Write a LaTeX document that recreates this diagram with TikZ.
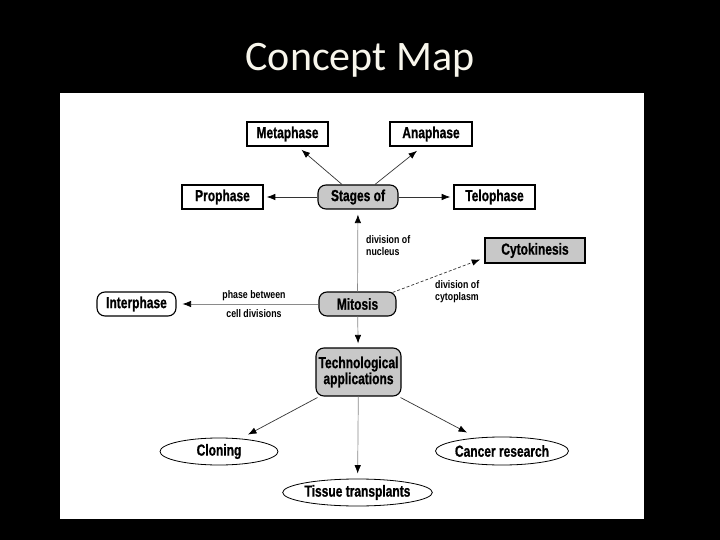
\documentclass[tikz,border=0pt]{standalone}
\usepackage{fontspec}
\usetikzlibrary{arrows.meta,shapes.geometric}
\newfontfamily\cmapfont{Liberation Sans}[FakeStretch=0.8]
\newfontfamily\nodefont{Liberation Sans}[FakeStretch=0.75, BoldFeatures={FakeBold=0.8}]
\newfontfamily\titlefont{Carlito}
\definecolor{nodegray}{HTML}{C8C8C8}
\definecolor{linegray}{HTML}{8A8A8A}
\definecolor{titlecol}{HTML}{F8F6EC}
\tikzset{
  base/.style={font=\nodefont\bfseries\fontsize{16}{17}\selectfont, inner sep=0pt, align=center},
  sqbox/.style={base, draw, line width=1.6pt, fill=white, minimum height=24pt},
  rbox/.style={base, draw, line width=1.1pt, rounded corners=8pt, minimum height=24pt},
  ell/.style={base, draw, ellipse, line width=0.8pt, fill=white},
  lbl/.style={font=\cmapfont\bfseries\fontsize{11}{12}\selectfont, inner sep=0pt, align=left},
  arr/.style={-{Latex[length=8.5pt,width=6.5pt,color=black]}, line width=0.7pt, draw=black!80},
  garr/.style={-{Latex[length=8.5pt,width=6.5pt,color=black]}, line width=0.7pt, draw=linegray},
}
\begin{document}
\begin{tikzpicture}[x=1pt,y=-1pt]
\useasboundingbox (0,0) rectangle (720,540);
\fill[black] (0,0) rectangle (720,540);
\fill[white] (60,93) rectangle (644,519);
\node[font=\titlefont\fontsize{42}{43}\selectfont, text=titlecol] (title) at (360,60) {Concept Map};

\node[sqbox, minimum width=81pt] (meta) at (287.5,134) {Metaphase};
\node[sqbox, minimum width=82pt] (ana) at (431,134) {Anaphase};
\node[sqbox, minimum width=81pt] (pro) at (222.5,197) {Prophase};
\node[rbox, fill=nodegray, minimum width=80pt] (stages) at (358,197) {Stages of};
\node[sqbox, minimum width=81pt] (telo) at (494.5,197) {Telophase};
\node[sqbox, fill=nodegray, minimum width=100pt, minimum height=25pt] (cyto) at (535,250.5) {Cytokinesis};
\node[rbox, fill=white, minimum width=79pt] (inter) at (136.5,304) {Interphase};
\node[rbox, fill=nodegray, minimum width=77pt] (mit) at (357.5,304) {Mitosis};
\node[rbox, fill=nodegray, minimum width=85pt, minimum height=48pt] (tech) at (358.5,372) {Technological\\[-1pt]applications};
\node[ell, minimum width=118pt, minimum height=27pt] (clon) at (219,451.5) {Cloning};
\node[ell, minimum width=126pt, minimum height=28pt] (canc) at (502,451) {Cancer research};
\node[ell, minimum width=129pt, minimum height=27pt] (tiss) at (357.5,492.5) {Tissue transplants};

\node[lbl, anchor=west] (lnuc) at (366,246) {division of\\nucleus};
\node[lbl, anchor=west] (lcyt) at (435,292) {division of\\cytoplasm};
\node[lbl] (lph) at (254,295.5) {phase between};
\node[lbl] (lcd) at (254,313.5) {cell divisions};

\draw[arr] ([xshift=-16pt]stages.north) -- ([xshift=14pt,yshift=-3pt]meta.south);
\draw[arr] ([xshift=17pt]stages.north) -- ([xshift=-14pt,yshift=-4pt]ana.south);
\draw[arr, shorten >=3pt] (stages) -- (pro);
\draw[arr, shorten >=3pt] (stages) -- (telo);
\draw[garr, shorten >=5pt] (mit) -- (stages);
\draw[arr, densely dashed] ([xshift=-4pt,yshift=-1pt]mit.north east) -- ([yshift=-9pt,xshift=-4pt]cyto.west);
\draw[garr, shorten >=6pt] (mit) -- (inter);
\draw[garr, shorten >=4pt] (mit) -- (tech);
\draw[arr] ([xshift=2pt,yshift=-1pt]tech.south west) -- ([xshift=29pt,yshift=3pt]clon.north);
\draw[arr] ([xshift=-1pt,yshift=-1pt]tech.south east) -- ([xshift=-35pt,yshift=4pt]canc.north);
\draw[garr, shorten >=5pt] (tech) -- (tiss);
\end{tikzpicture}
\end{document}
